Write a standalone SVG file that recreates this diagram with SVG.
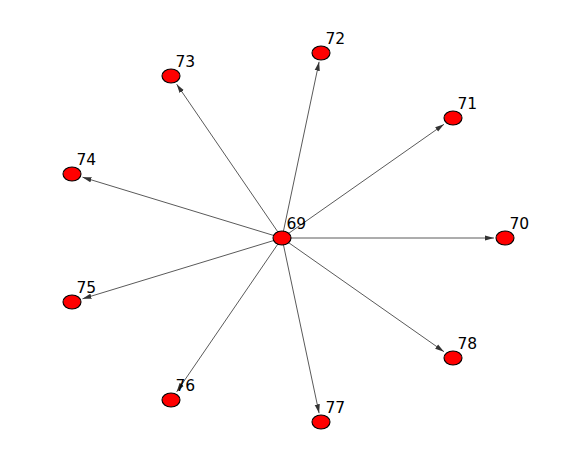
<svg xmlns="http://www.w3.org/2000/svg" width="564" height="476" viewBox="0 0 564 476">
<style>
.edge{stroke:#5a5a5a;stroke-width:1;fill:none;marker-end:url(#arr)}
.node ellipse{fill:#ff0000;stroke:#000000;stroke-width:1.1}
.node text{font-family:"DejaVu Sans","Liberation Sans",sans-serif;font-size:15.5px;fill:#000000}
</style>
<defs>
<marker id="arr" markerUnits="userSpaceOnUse" viewBox="0 -3 9 6" refX="9" refY="0" markerWidth="9" markerHeight="6" orient="auto">
<path d="M0,-2.6 L9,0 L0,2.6 z" fill="#333333"/>
</marker>
</defs>
<rect width="564" height="476" fill="#ffffff"/>
<g id="edges">
<line class="edge" x1="282" y1="238" x2="494" y2="238"/>
<line class="edge" x1="282" y1="238" x2="444" y2="124.3"/>
<line class="edge" x1="282" y1="238" x2="319.1" y2="61.8"/>
<line class="edge" x1="282" y1="238" x2="176.7" y2="84.2"/>
<line class="edge" x1="282" y1="238" x2="82.5" y2="177.2"/>
<line class="edge" x1="282" y1="238" x2="82.5" y2="298.8"/>
<line class="edge" x1="282" y1="238" x2="176.7" y2="391.8"/>
<line class="edge" x1="282" y1="238" x2="319.1" y2="413.2"/>
<line class="edge" x1="282" y1="238" x2="444" y2="351.7"/>
</g>
<g id="n69" class="node"><ellipse cx="282" cy="238" rx="9" ry="7"/><text x="286.5" y="229">69</text></g>
<g id="n70" class="node"><ellipse cx="505" cy="238" rx="9" ry="7"/><text x="509.5" y="229">70</text></g>
<g id="n71" class="node"><ellipse cx="453" cy="118" rx="9" ry="7"/><text x="457.5" y="109">71</text></g>
<g id="n72" class="node"><ellipse cx="321" cy="53" rx="9" ry="7"/><text x="325.5" y="44">72</text></g>
<g id="n73" class="node"><ellipse cx="171" cy="76" rx="9" ry="7"/><text x="175.5" y="67">73</text></g>
<g id="n74" class="node"><ellipse cx="72" cy="174" rx="9" ry="7"/><text x="76.5" y="165">74</text></g>
<g id="n75" class="node"><ellipse cx="72" cy="302" rx="9" ry="7"/><text x="76.5" y="293">75</text></g>
<g id="n76" class="node"><ellipse cx="171" cy="400" rx="9" ry="7"/><text x="175.5" y="391">76</text></g>
<g id="n77" class="node"><ellipse cx="321" cy="422" rx="9" ry="7"/><text x="325.5" y="413">77</text></g>
<g id="n78" class="node"><ellipse cx="453" cy="358" rx="9" ry="7"/><text x="457.5" y="349">78</text></g>
</svg>
